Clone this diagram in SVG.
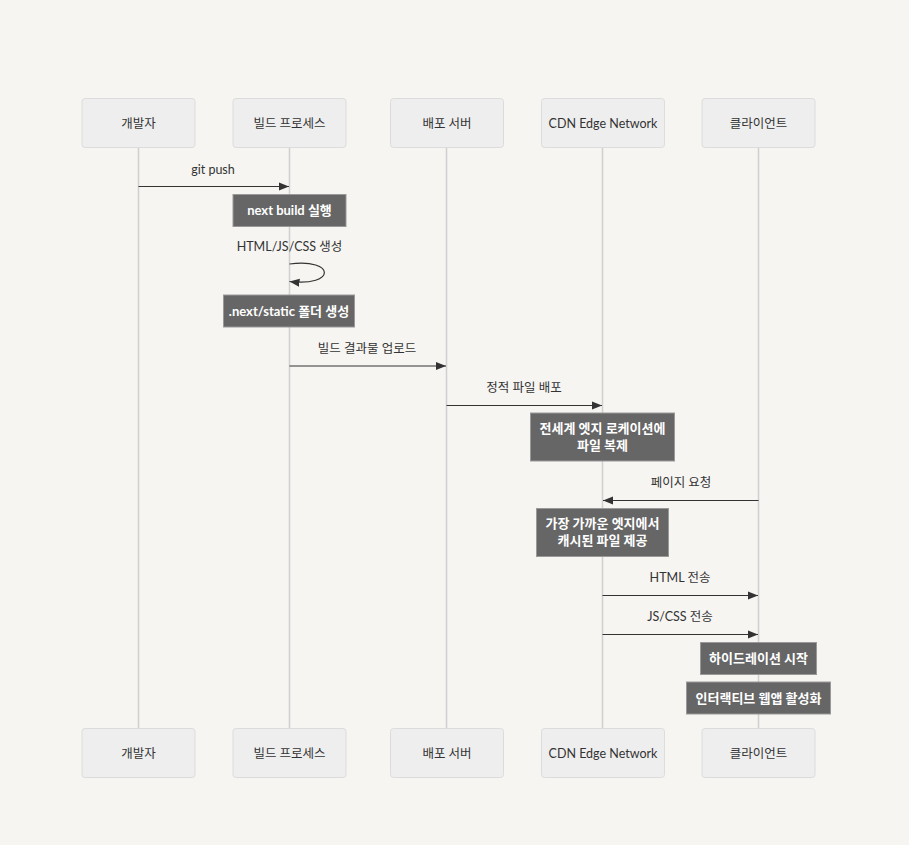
<svg xmlns="http://www.w3.org/2000/svg" width="909" height="845" viewBox="0 0 909 845">
<defs>
<style>
.bg{fill:#f6f5f2}
.actor rect{fill:#eeeeee;stroke:#dcdcdc;stroke-width:1}
.actor text{font-family:Lato,"Noto Sans CJK KR",sans-serif;font-size:12.5px;fill:#333;text-anchor:middle;dominant-baseline:central}
.life{stroke:#d0d0d0;stroke-width:1.5;fill:none}
.msg{stroke:#333;stroke-width:1.2;fill:none}
.lbl{font-family:Lato,"Noto Sans CJK KR",sans-serif;font-size:12.5px;fill:#333;text-anchor:middle}
.note rect{fill:#666666;stroke:#999999;stroke-width:1}
.note text{font-family:Lato,"Noto Sans CJK KR",sans-serif;font-size:13px;font-weight:bold;fill:#ffffff;text-anchor:middle;dominant-baseline:central}
</style>
<marker id="arr" viewBox="0 0 10 10" refX="10" refY="5" markerWidth="10" markerHeight="10" markerUnits="userSpaceOnUse" orient="auto">
<path d="M0,1 L10,5 L0,9 Z" fill="#333"/>
</marker>
</defs>
<rect class="bg" x="0" y="0" width="909" height="845"/>
<g id="lifelines">
<line class="life" x1="138.5" y1="147" x2="138.5" y2="728"/>
<line class="life" x1="289.5" y1="147" x2="289.5" y2="728"/>
<line class="life" x1="446.5" y1="147" x2="446.5" y2="728"/>
<line class="life" x1="602.5" y1="147" x2="602.5" y2="728"/>
<line class="life" x1="758.5" y1="147" x2="758.5" y2="728"/>
</g>
<g id="actor-dev" class="actor">
<rect x="82" y="98.5" width="113" height="49" rx="3"/><text x="138.5" y="123">개발자</text>
<rect x="82" y="728.5" width="113" height="49" rx="3"/><text x="138.5" y="753">개발자</text>
</g>
<g id="actor-build" class="actor">
<rect x="233" y="98.5" width="113" height="49" rx="3"/><text x="289.5" y="123">빌드 프로세스</text>
<rect x="233" y="728.5" width="113" height="49" rx="3"/><text x="289.5" y="753">빌드 프로세스</text>
</g>
<g id="actor-deploy" class="actor">
<rect x="390.5" y="98.5" width="113" height="49" rx="3"/><text x="447" y="123">배포 서버</text>
<rect x="390.5" y="728.5" width="113" height="49" rx="3"/><text x="447" y="753">배포 서버</text>
</g>
<g id="actor-cdn" class="actor">
<rect x="541.5" y="98.5" width="123" height="49" rx="3"/><text x="603" y="123">CDN Edge Network</text>
<rect x="541.5" y="728.5" width="123" height="49" rx="3"/><text x="603" y="753">CDN Edge Network</text>
</g>
<g id="actor-client" class="actor">
<rect x="702" y="98.5" width="113" height="49" rx="3"/><text x="758.5" y="123">클라이언트</text>
<rect x="702" y="728.5" width="113" height="49" rx="3"/><text x="758.5" y="753">클라이언트</text>
</g>
<g id="connectors">
<line class="msg" x1="138.5" y1="186.5" x2="289" y2="186.5" marker-end="url(#arr)"/>
<text class="lbl" x="213" y="174">git push</text>
<path class="msg" d="M289.5,264 C336,258 336,287 289.5,281.5" marker-end="url(#arr)"/>
<text class="lbl" x="289.5" y="251">HTML/JS/CSS 생성</text>
<line class="msg" x1="289.5" y1="366" x2="446" y2="366" marker-end="url(#arr)"/>
<text class="lbl" x="367" y="353">빌드 결과물 업로드</text>
<line class="msg" x1="446.5" y1="405.5" x2="602" y2="405.5" marker-end="url(#arr)"/>
<text class="lbl" x="524" y="392">정적 파일 배포</text>
<line class="msg" x1="758.5" y1="500.5" x2="603" y2="500.5" marker-end="url(#arr)"/>
<text class="lbl" x="681" y="487">페이지 요청</text>
<line class="msg" x1="602.5" y1="595.5" x2="758" y2="595.5" marker-end="url(#arr)"/>
<text class="lbl" x="680" y="582">HTML 전송</text>
<line class="msg" x1="602.5" y1="634.5" x2="758" y2="634.5" marker-end="url(#arr)"/>
<text class="lbl" x="680" y="621">JS/CSS 전송</text>
</g>
<g id="note-build" class="note"><rect x="233" y="194.5" width="113" height="32"/><text x="289.5" y="210">next build 실행</text></g>
<g id="note-static" class="note"><rect x="223.5" y="295" width="131" height="32"/><text x="289" y="310.5">.next/static 폴더 생성</text></g>
<g id="note-replicate" class="note"><rect x="530.5" y="413" width="144" height="48"/><text x="602.5" y="427.5">전세계 엣지 로케이션에</text><text x="602.5" y="444.5">파일 복제</text></g>
<g id="note-serve" class="note"><rect x="536.5" y="508.5" width="132" height="48"/><text x="602.5" y="523">가장 가까운 엣지에서</text><text x="602.5" y="540">캐시된 파일 제공</text></g>
<g id="note-hydrate" class="note"><rect x="700.5" y="642.5" width="116" height="32"/><text x="758.5" y="658">하이드레이션 시작</text></g>
<g id="note-interactive" class="note"><rect x="686.5" y="682" width="144" height="32"/><text x="758.5" y="697.5">인터랙티브 웹앱 활성화</text></g>
</svg>
